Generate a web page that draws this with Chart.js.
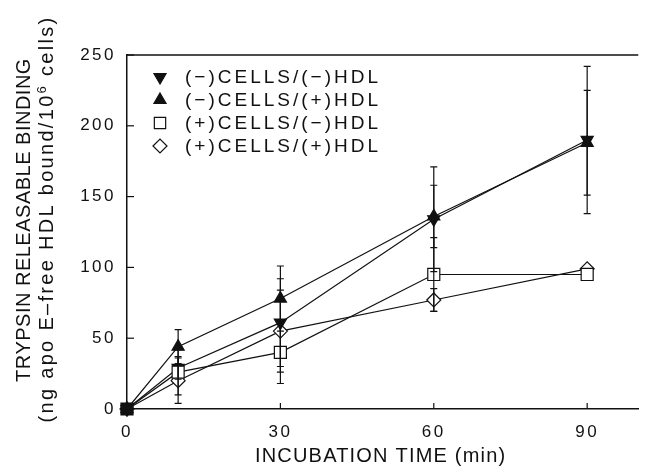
<!DOCTYPE html>
<html><head><meta charset="utf-8">
<script src="https://cdn.jsdelivr.net/npm/chart.js@4.4.1/dist/chart.umd.min.js"></script>
<style>html,body{margin:0;padding:0;background:#fff}canvas{display:block}</style>
</head><body><canvas id="c" width="648" height="468"></canvas>
<script>
// ---- data ----
const times = [0, 10, 30, 60, 90];
const seriesLabels = ['(\u2212)CELLS/(\u2212)HDL', '(\u2212)CELLS/(+)HDL', '(+)CELLS/(\u2212)HDL', '(+)CELLS/(+)HDL'];
const negCellsNegHdl = [0, 29, 61, 134, 190];
const negCellsPosHdl = [0, 44, 78, 136, 188];
const posCellsNegHdl = [0, 26, 40, 95, 95];
const posCellsPosHdl = [0, 20, 55, 77, 99];
const errNegCellsNegHdl = [0, 8, 31, 37, 52];
const errNegCellsPosHdl = [0, 12, 23, 22, 37];
const errPosCellsNegHdl = [0, 16, 22, 26, 0];
const errPosCellsPosHdl = [0, 16, 29, 8, 0];
const xTicks = [0, 30, 60, 90];
const yTicks = [0, 50, 100, 150, 200, 250];
const xTitle = 'INCUBATION TIME (min)';
const yTitleLine1 = 'TRYPSIN RELEASABLE BINDING';
const yTitleLine2a = '(ng apo E\u2013free HDL bound/10';
const yTitleLine2sup = '6';
const yTitleLine2b = ' cells)';

const FONT = '"Liberation Sans", Arial, sans-serif';
const INK = '#111';

function mk(label, values, errs, style, rot, fill, order) {
  return {
    label: label,
    data: times.map((t, i) => ({x: t, y: values[i]})),
    errors: errs,
    order: order,
    borderColor: INK,
    borderWidth: 1.2,
    pointStyle: style,
    pointRotation: rot,
    pointRadius: style === 'rect' ? 8.5 : 7,
    pointBorderWidth: 1.2,
    pointBorderColor: INK,
    pointBackgroundColor: fill,
    legendFill: Array.isArray(fill) ? fill[1] : fill,
    tension: 0,
    fill: false,
    clip: false
  };
}

const datasets = [
  mk(seriesLabels[0], negCellsNegHdl, errNegCellsNegHdl, 'triangle', 180, INK, 0),
  mk(seriesLabels[1], negCellsPosHdl, errNegCellsPosHdl, 'triangle', 0, INK, 1),
  mk(seriesLabels[2], posCellsNegHdl, errPosCellsNegHdl, 'rect', 0, [INK, '#fff', '#fff', '#fff', '#fff'], -1),
  mk(seriesLabels[3], posCellsPosHdl, errPosCellsPosHdl, 'rectRot', 0, '#fff', 2)
];

function spacedText(ctx, txt, x, y, spacing) {
  ctx.letterSpacing = spacing + 'px';
  ctx.fillText(txt, x, y);
  ctx.letterSpacing = '0px';
}

const decor = {
  id: 'decor',
  beforeDraw(chart) { chart.ctx.letterSpacing = '2.5px'; },
  beforeDatasetsDraw(chart) {
    const ctx = chart.ctx, a = chart.chartArea;
    ctx.letterSpacing = '0px';
    ctx.save();
    ctx.strokeStyle = INK; ctx.lineWidth = 1.5;
    ctx.beginPath(); ctx.moveTo(a.left, a.top); ctx.lineTo(a.right, a.top); ctx.stroke();
    ctx.lineWidth = 1.2;
    const ys = chart.scales.y, xs = chart.scales.x;
    ys.ticks.forEach(t => {
      if (t.value === 0) return;
      const p = ys.getPixelForValue(t.value);
      ctx.beginPath(); ctx.moveTo(a.left, p); ctx.lineTo(a.left + 7, p); ctx.stroke();
    });
    xs.ticks.forEach(t => {
      if (t.value === 0) return;
      const p = xs.getPixelForValue(t.value);
      ctx.beginPath(); ctx.moveTo(p, a.bottom); ctx.lineTo(p, a.bottom - 6); ctx.stroke();
    });
    ctx.restore();
  },
  afterDatasetsDraw(chart) {
    const ctx = chart.ctx, ys = chart.scales.y, a = chart.chartArea;
    ctx.save();
    ctx.strokeStyle = INK; ctx.lineWidth = 1.2;
    chart.data.datasets.forEach((ds, i) => {
      const meta = chart.getDatasetMeta(i);
      ds.data.forEach((pt, j) => {
        const e = ds.errors[j];
        if (!e) return;
        const x = meta.data[j].x;
        const yt = ys.getPixelForValue(pt.y + e), yb = ys.getPixelForValue(pt.y - e);
        ctx.beginPath();
        ctx.moveTo(x, yt); ctx.lineTo(x, yb);
        ctx.moveTo(x - 3.5, yt); ctx.lineTo(x + 3.5, yt);
        ctx.moveTo(x - 3.5, yb); ctx.lineTo(x + 3.5, yb);
        ctx.stroke();
      });
    });
    // legend inside plot
    chart.data.datasets.forEach((ds, i) => {
      const y = a.top + 22 + 23 * i;
      ctx.fillStyle = ds.legendFill;
      ctx.strokeStyle = INK; ctx.lineWidth = 1.2;
      Chart.helpers.drawPoint(ctx, {pointStyle: ds.pointStyle, rotation: ds.pointRotation,
        radius: ds.pointStyle === 'rect' ? 8 : 7, borderWidth: 1.2}, 160, y);
      ctx.fillStyle = INK;
      ctx.font = '19px ' + FONT;
      ctx.textAlign = 'left'; ctx.textBaseline = 'middle';
      spacedText(ctx, ds.label, 185, y + 1, 3);
    });
    // axis titles
    ctx.fillStyle = INK;
    ctx.font = '20px ' + FONT;
    ctx.textAlign = 'center'; ctx.textBaseline = 'alphabetic';
    spacedText(ctx, xTitle, (a.left + a.right) / 2 - 2, 462, 1.2);
    ctx.save();
    ctx.translate(30, 220);
    ctx.rotate(-Math.PI / 2);
    spacedText(ctx, yTitleLine1, 0, 0, 0.5);
    ctx.restore();
    ctx.save();
    ctx.translate(53, 219);
    ctx.rotate(-Math.PI / 2);
    ctx.textAlign = 'left';
    ctx.letterSpacing = '2.3px';
    ctx.font = '20px ' + FONT;
    const wA = ctx.measureText(yTitleLine2a).width;
    const wB = ctx.measureText(yTitleLine2b).width;
    ctx.font = '13px ' + FONT;
    const wS = ctx.measureText(yTitleLine2sup).width;
    const start = -(wA + wS + wB) / 2;
    ctx.font = '20px ' + FONT;
    ctx.fillText(yTitleLine2a, start, 0);
    ctx.font = '13px ' + FONT;
    ctx.fillText(yTitleLine2sup, start + wA, -7);
    ctx.font = '20px ' + FONT;
    ctx.fillText(yTitleLine2b, start + wA + wS, 0);
    ctx.letterSpacing = '0px';
    ctx.restore();
    ctx.restore();
  }
};

new Chart(document.getElementById('c'), {
  type: 'line',
  data: {datasets: datasets},
  options: {
    responsive: false,
    animation: false,
    devicePixelRatio: 1,
    layout: {padding: {top: 55, right: 0, left: 0, bottom: 0}},
    plugins: {legend: {display: false}, tooltip: {enabled: false}},
    scales: {
      x: {
        type: 'linear', min: 0, max: 100,
        afterBuildTicks: s => { s.ticks = xTicks.map(v => ({value: v})); },
        afterFit: s => { s.height = 59; },
        grid: {display: false, drawTicks: false},
        border: {display: true, color: INK, width: 1.5},
        ticks: {color: INK, font: {family: FONT, size: 17}, padding: 13, maxRotation: 0}
      },
      y: {
        type: 'linear', min: 0, max: 250,
        afterBuildTicks: s => { s.ticks = yTicks.map(v => ({value: v})); },
        afterFit: s => { s.width = 127; },
        grid: {display: false, drawTicks: false},
        border: {display: true, color: INK, width: 1.5},
        ticks: {color: INK, font: {family: FONT, size: 17}, padding: 11}
      }
    }
  },
  plugins: [decor]
});
</script>
</body></html>
